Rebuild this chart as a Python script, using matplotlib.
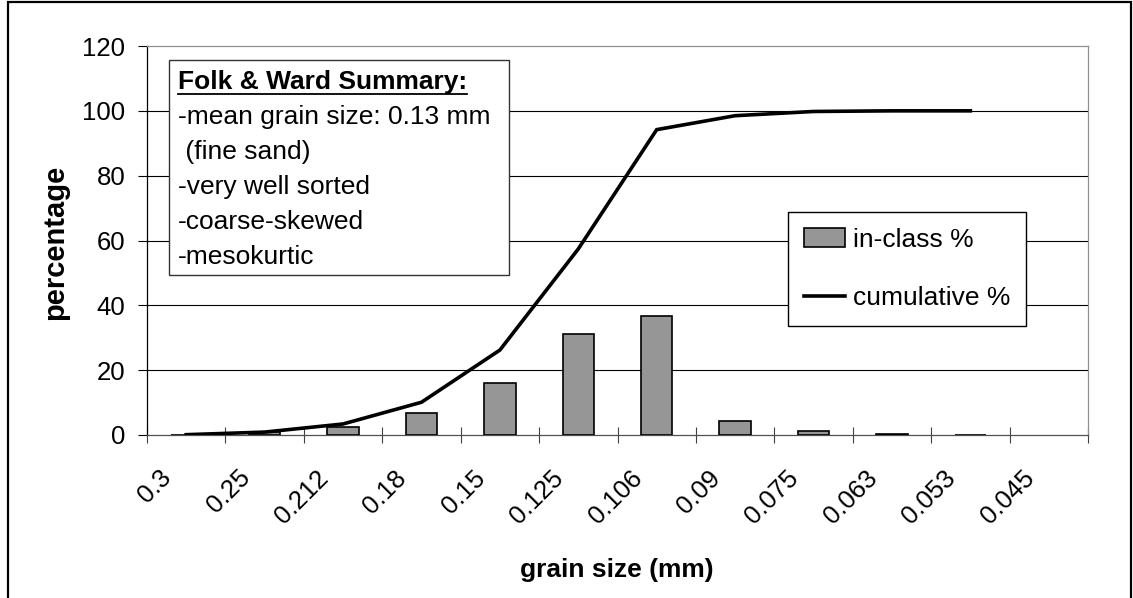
import numpy as np
import matplotlib
matplotlib.use("Agg")
import matplotlib.pyplot as plt
from matplotlib.patches import Rectangle
from matplotlib.lines import Line2D
import matplotlib.transforms as mtransforms

plt.rcParams['font.family'] = ['Liberation Sans', 'DejaVu Sans']

# data
sizes = ["0.3", "0.25", "0.212", "0.18", "0.15", "0.125", "0.106",
         "0.09", "0.075", "0.063", "0.053", "0.045"]
in_class = [0.1, 0.8, 2.5, 6.7, 16.1, 31.2, 36.8, 4.3, 1.3, 0.2, 0.1, np.nan]
cumulative = [0.1, 0.9, 3.4, 10.1, 26.2, 57.4, 94.2, 98.5, 99.8, 100.0, 100.0, np.nan]
summary_title = "Folk & Ward Summary:"
summary_lines = ["-mean grain size: 0.13 mm", " (fine sand)", "-very well sorted",
                 "-coarse-skewed", "-mesokurtic"]

W, H = 1133, 598
fig = plt.figure(figsize=(W / 100, H / 100), dpi=100)

def fx(px):
    return px / W

def fy(py):
    return 1 - py / H

ax = fig.add_axes([fx(147), fy(435), fx(1088) - fx(147), fy(46) - fy(435)])
x = np.arange(len(sizes))

bars = ax.bar(x, in_class, width=0.4, color='#969696', edgecolor='black',
              linewidth=1.2, zorder=3, label='in-class %')
line, = ax.plot(x, cumulative, color='black', linewidth=2.6, zorder=4,
                label='cumulative %', solid_joinstyle='miter')

ax.set_xlim(-0.5, len(sizes) - 0.5)
ax.set_ylim(0, 120)
ax.set_yticks(np.arange(0, 121, 20))
ax.tick_params(axis='y', direction='out', length=6.5, width=0.8, pad=9, labelsize=18.5)

# labels at category centres, tick marks at category boundaries
ax.set_xticks(x)
ax.set_xticklabels(sizes, rotation=45, ha='right', va='top')
ax.set_xticks(np.arange(-0.5, len(sizes), 1.0), minor=True)
ax.tick_params(axis='x', which='major', length=0, pad=22, labelsize=18.5)
ax.tick_params(axis='x', which='minor', direction='inout', length=12, width=0.8,
               color='#404040')
shift = mtransforms.ScaledTranslation(-10 / 100, 0, fig.dpi_scale_trans)
for lbl in ax.get_xticklabels():
    lbl.set_transform(lbl.get_transform() + shift)

for yv in range(20, 120, 20):
    ax.axhline(yv, color='black', linewidth=0.8, zorder=1)

ax.spines['left'].set_color('black')
ax.spines['bottom'].set_color('#505050')
ax.spines['top'].set_color('#909090')
ax.spines['right'].set_color('#909090')
for s in ax.spines.values():
    s.set_linewidth(0.9)

fig.text(fx(55), fy(242), "percentage", rotation=90, ha='center', va='center',
         fontsize=21, fontweight='bold')
fig.text(fx(617), fy(577), "grain size (mm)", ha='center', va='baseline',
         fontsize=19, fontweight='bold')

leg = fig.legend(handles=[bars, line], loc='upper left',
                 bbox_to_anchor=(fx(788), fy(212)), bbox_transform=fig.transFigure,
                 borderaxespad=0, fontsize=19, frameon=True, fancybox=False,
                 edgecolor='black', framealpha=1, labelspacing=1.3,
                 handlelength=1.55, handletextpad=0.3, borderpad=0.6)
leg.get_frame().set_linewidth(1.0)

# summary box
fig.add_artist(Rectangle((fx(169), fy(275)), fx(509) - fx(169), fy(60) - fy(275),
                         transform=fig.transFigure, facecolor='white',
                         edgecolor='#333333', linewidth=1.0, zorder=5))
title_txt = fig.text(fx(178), fy(82), summary_title, ha='left', va='center',
                     fontsize=19, fontweight='bold', zorder=6)
for i, s in enumerate(summary_lines):
    fig.text(fx(178), fy(117 + 35 * i), s, ha='left', va='center',
             fontsize=19, zorder=6)

fig.canvas.draw()
bb = title_txt.get_window_extent().transformed(fig.transFigure.inverted())
fig.add_artist(Line2D([bb.x0, bb.x1], [fy(94), fy(94)], transform=fig.transFigure,
                      color='black', linewidth=1.3, zorder=6))

# outer chart border
fig.add_artist(Rectangle((fx(8), -0.01), fx(1131) - fx(8), fy(2) + 0.01,
                         transform=fig.transFigure, fill=False,
                         edgecolor='black', linewidth=1.6))

fig.savefig("out.png", dpi=100)
